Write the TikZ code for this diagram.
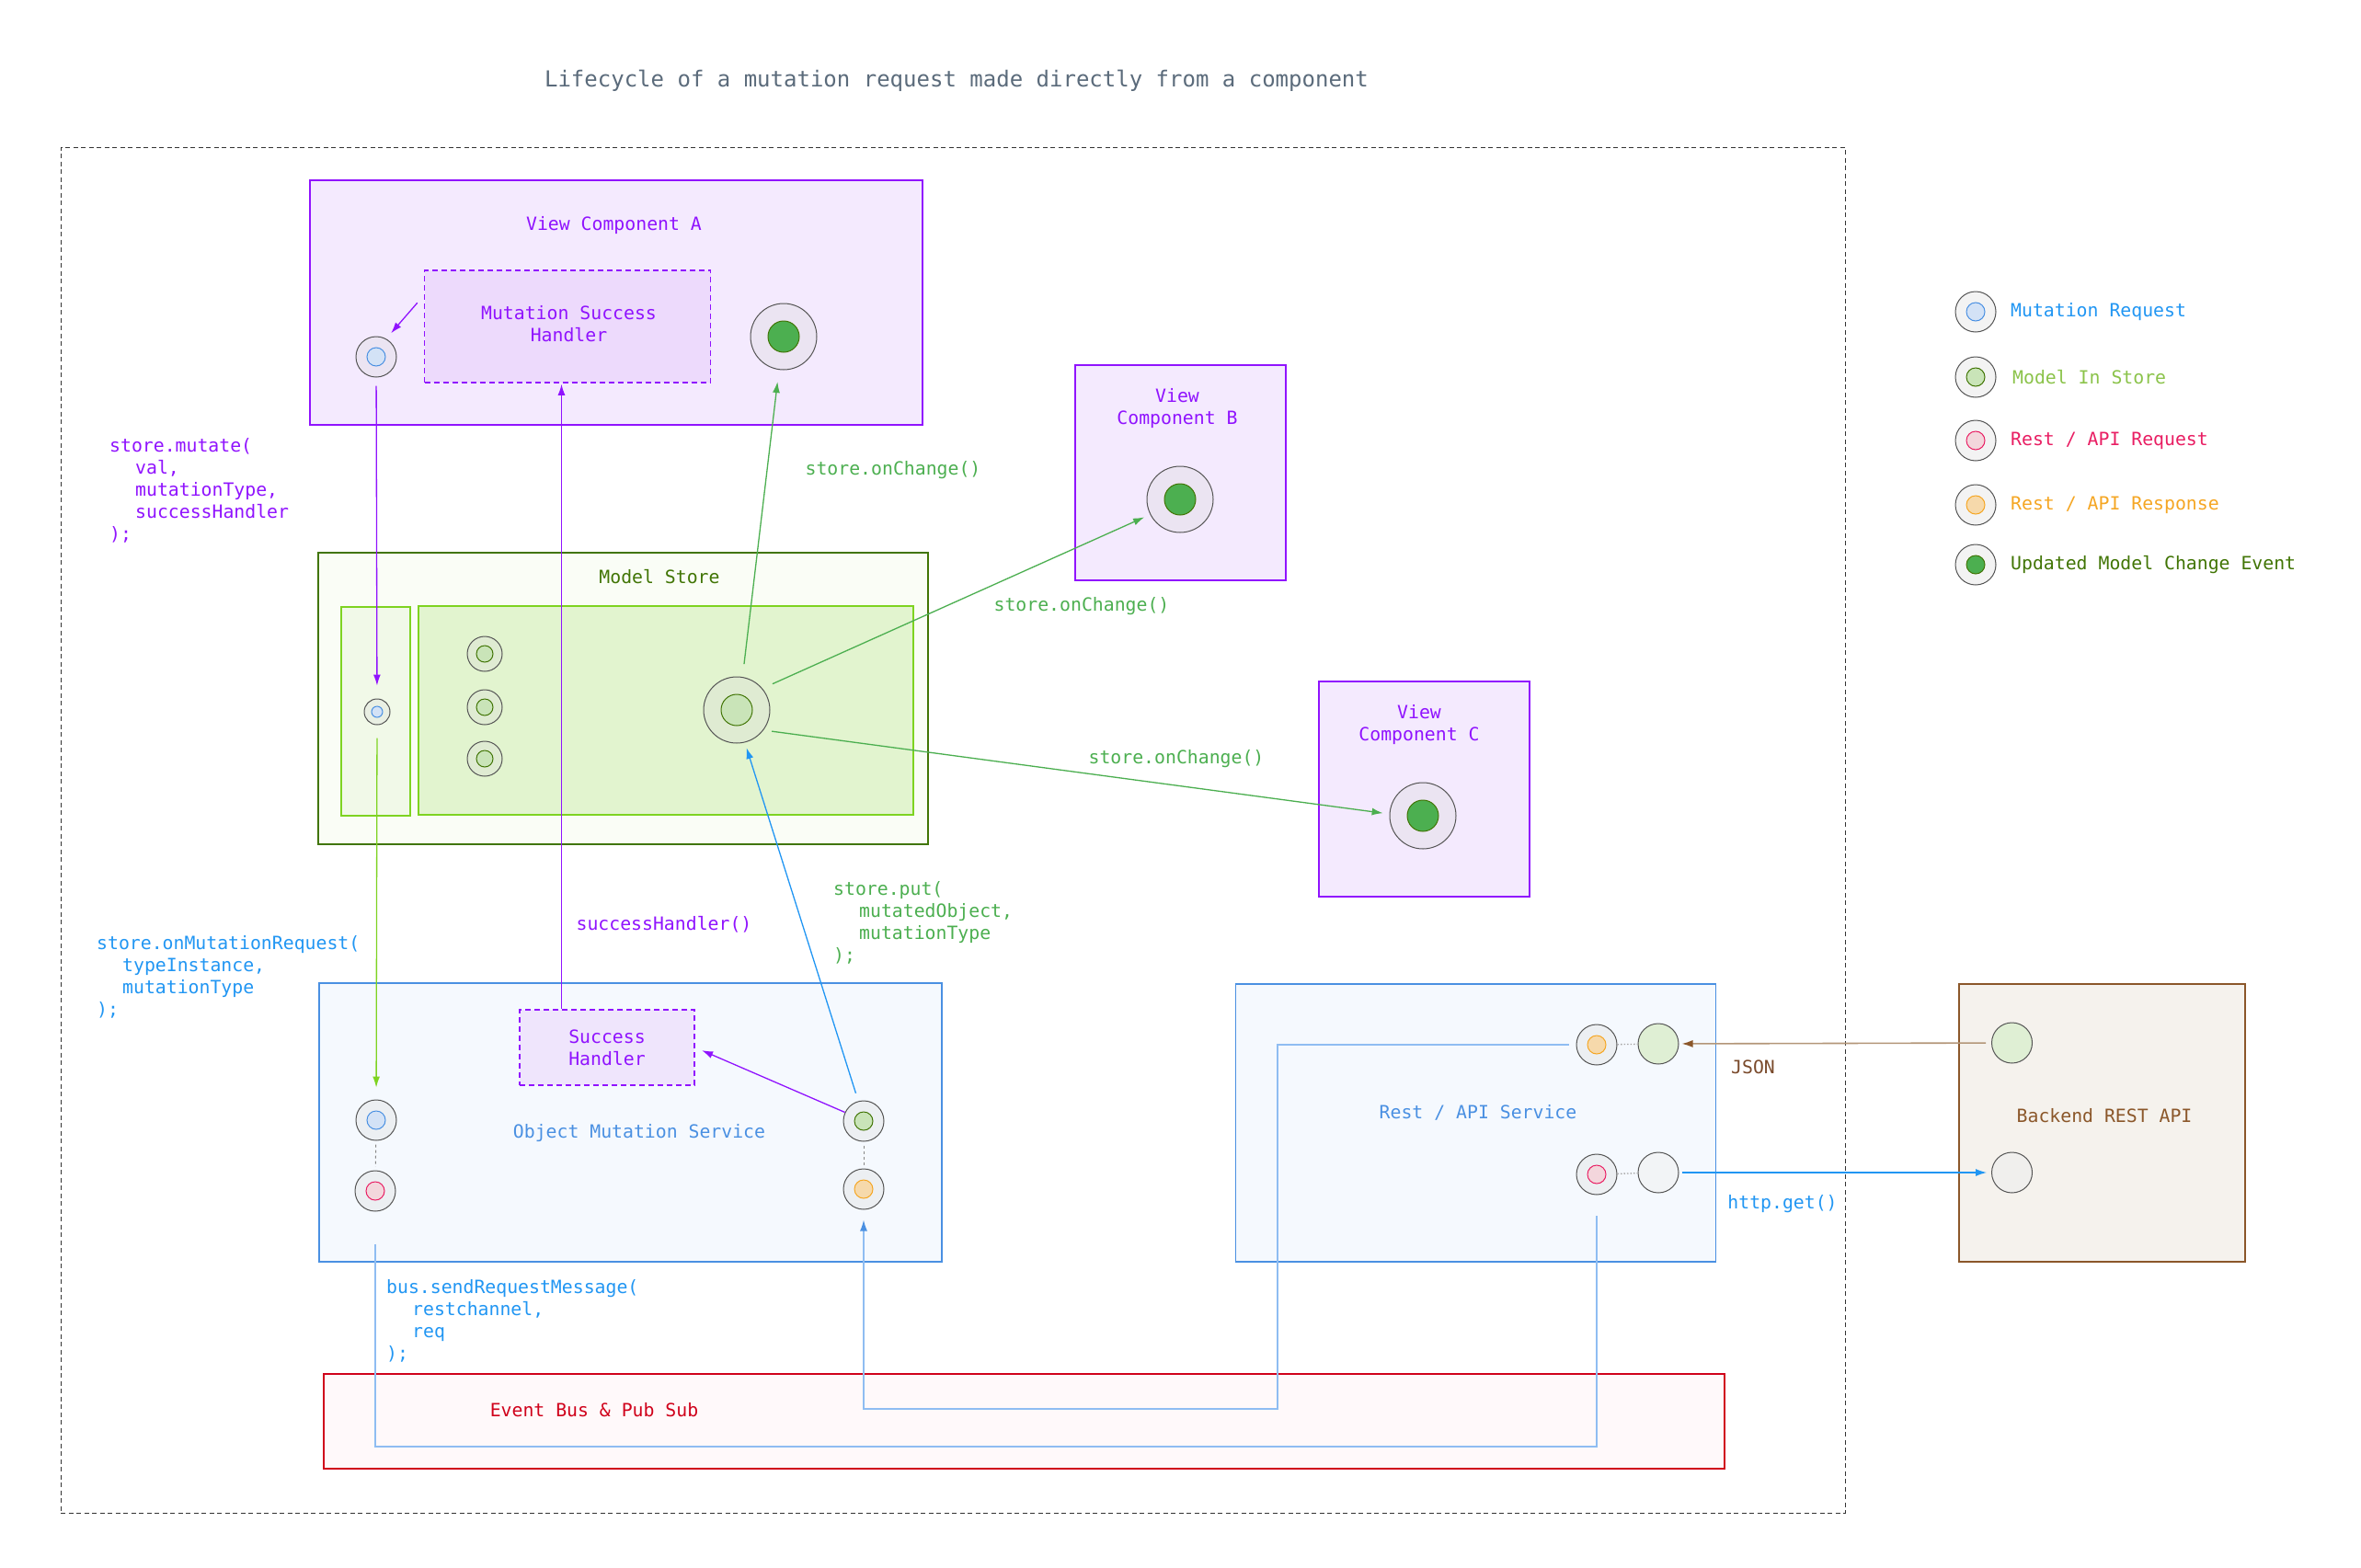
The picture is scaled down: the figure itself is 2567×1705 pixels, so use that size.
\documentclass[tikz,border=0pt]{standalone}
\usepackage{fontspec}
\setmainfont{DejaVu Sans Mono}
\usetikzlibrary{arrows.meta}

\definecolor{cpurple}{HTML}{9013FE}
\definecolor{vfill}{HTML}{F4EAFE}
\definecolor{hfill}{HTML}{EDDAFC}
\definecolor{shfill}{HTML}{EFE5FC}
\definecolor{dgreen}{HTML}{417505}
\definecolor{lgreen}{HTML}{7ED321}
\definecolor{mgreen}{HTML}{4CAF50}
\definecolor{pgreen}{HTML}{8BC34A}
\definecolor{msfill}{HTML}{FAFDF6}
\definecolor{msleft}{HTML}{F1F9E8}
\definecolor{msright}{HTML}{E2F4CF}
\definecolor{sblue}{HTML}{4A90E2}
\definecolor{bblue}{HTML}{2196F3}
\definecolor{pblue}{HTML}{8FBDF2}
\definecolor{sfill}{HTML}{F5F9FE}
\definecolor{brn}{HTML}{8B572A}
\definecolor{lbrn}{HTML}{B39678}
\definecolor{jbrn}{HTML}{7A4A2B}
\definecolor{bfill}{HTML}{F5F2ED}
\definecolor{bred}{HTML}{D0021B}
\definecolor{rfill}{HTML}{FFF9FA}
\definecolor{cpink}{HTML}{E91E63}
\definecolor{corange}{HTML}{F5A623}
\definecolor{ttl}{HTML}{5B6B7B}
\definecolor{ringc}{HTML}{555555}
\definecolor{framec}{HTML}{333333}
\definecolor{mreqf}{HTML}{D3E2F6}
\definecolor{modf}{HTML}{C9E4B8}
\definecolor{rreqf}{HTML}{F3D6DC}
\definecolor{rresf}{HTML}{F6D9AB}

\begin{document}
\begin{tikzpicture}[x=1pt, y=-1pt, >={Latex[length=12pt,width=8pt]},
  lbl/.style={font=\fontsize{19.8}{24}\selectfont, inner sep=0},
  code/.style={lbl, align=left, anchor=west},
  twol/.style={lbl, align=center},
  frame/.style={draw=framec, line width=1pt, dash pattern=on 5pt off 3.5pt, inner sep=0},
  vbox/.style={draw=cpurple, fill=vfill, line width=1.5pt, inner sep=0},
  hbox/.style={draw=cpurple, fill=hfill, line width=1.5pt, dash pattern=on 6pt off 4pt, inner sep=0},
  shbox/.style={hbox, fill=shfill},
  msbox/.style={draw=dgreen, fill=msfill, line width=1.5pt, inner sep=0},
  inbox/.style={draw=lgreen, fill=msleft, line width=1.5pt, inner sep=0},
  sbox/.style={draw=sblue, fill=sfill, line width=1.5pt, inner sep=0},
  bebox/.style={draw=brn, fill=bfill, line width=1.5pt, inner sep=0},
  busbox/.style={draw=bred, fill=rfill, line width=1.5pt, inner sep=0},
  ring/.style={circle, draw=ringc, line width=1pt, fill=black!15, fill opacity=0.3, inner sep=0, minimum size=44pt},
  bigring/.style={ring, minimum size=72pt},
  midring/.style={ring, minimum size=38pt},
  smallring/.style={ring, minimum size=28pt},
  dot/.style={circle, line width=1pt, inner sep=0, minimum size=20pt},
  mreq/.style={dot, draw=sblue, fill=mreqf},
  mod/.style={dot, draw=dgreen, fill=modf},
  rreq/.style={dot, draw=cpink, fill=rreqf},
  rres/.style={dot, draw=corange, fill=rresf},
  evt/.style={dot, draw=dgreen, fill=mgreen},
  conn/.style={line width=1.3pt}]

\useasboundingbox (0,0) rectangle (2567,1705);
\fill[white] (0,0) rectangle (2567,1705);

\node[font=\fontsize{24}{29}\selectfont, text=ttl, inner sep=0] (title) at (1040,88) {Lifecycle of a mutation request made directly from a component};
\node[frame, minimum width=1940, minimum height=1485] (fr) at (1036,902.5) {};

% view components
\node[vbox, minimum width=666, minimum height=266] (vca) at (670,329) {};
\node[lbl, text=cpurple] (vcat) at (667.5,245) {View Component A};
\node[hbox, minimum width=311, minimum height=122] (msh) at (617,355) {};
\node[twol, text=cpurple] (msht) at (618.5,352.5) {Mutation Success\\Handler};
\node[ring] (a1) at (409,388) {};
\node[mreq] (a1i) at (a1) {};
\node[bigring] (aev) at (852,366) {};
\node[evt, minimum size=34pt] (aevi) at (aev) {};

\node[vbox, minimum width=229, minimum height=234] (vcb) at (1283.5,514) {};
\node[twol, text=cpurple] (vcbt) at (1280,444) {View\\Component B};
\node[bigring] (vbe) at (1283,543) {};
\node[evt, minimum size=34pt] (vbei) at (vbe) {};

\node[vbox, minimum width=229, minimum height=234] (vcc) at (1548.5,858) {};
\node[twol, text=cpurple] (vcct) at (1543,788) {View\\Component C};
\node[bigring] (vce) at (1547,887) {};
\node[evt, minimum size=34pt] (vcei) at (vce) {};

% model store
\node[msbox, minimum width=663, minimum height=317] (ms) at (677.5,759.5) {};
\node[lbl, text=dgreen] (mst) at (717,627) {Model Store};
\node[inbox, minimum width=75, minimum height=227] (msl) at (408.5,773.5) {};
\node[inbox, fill=msright, minimum width=538, minimum height=227] (msr) at (724,772.5) {};
\node[smallring] (s1) at (410,774) {};
\node[mreq, minimum size=12pt] (s1i) at (s1) {};
\node[midring] (m1) at (527,711) {};
\node[mod, minimum size=18pt] (m1i) at (m1) {};
\node[midring] (m2) at (527,769) {};
\node[mod, minimum size=18pt] (m2i) at (m2) {};
\node[midring] (m3) at (527,825) {};
\node[mod, minimum size=18pt] (m3i) at (m3) {};
\node[bigring] (mbig) at (801,772) {};
\node[mod, minimum size=34pt] (mbigi) at (mbig) {};

% object mutation service
\node[sbox, minimum width=677, minimum height=303] (oms) at (685.5,1220.5) {};
\node[lbl, text=sblue] (omst) at (695,1232) {Object Mutation Service};
\node[shbox, minimum width=190, minimum height=82] (sh) at (660,1139) {};
\node[twol, text=cpurple] (sht) at (660,1139) {Success\\Handler};
\node[ring] (o1) at (409,1218) {};
\node[mreq] (o1i) at (o1) {};
\node[ring] (o2) at (408,1295) {};
\node[rreq] (o2i) at (o2) {};
\node[ring] (o3) at (939,1219) {};
\node[mod] (o3i) at (o3) {};
\node[ring] (o4) at (939,1293) {};
\node[rres] (o4i) at (o4) {};
\draw[ringc!70, line width=1pt, dashed, shorten <=4pt, shorten >=4pt] (o1) -- (o2);
\draw[ringc!70, line width=1pt, dashed, shorten <=4pt, shorten >=4pt] (o3) -- (o4);

% rest api service
\node[sbox, minimum width=522, minimum height=302] (rs) at (1604.5,1221) {};
\node[lbl, text=sblue] (rst) at (1607,1210) {Rest / API Service};
\node[ring] (r1) at (1736,1136) {};
\node[rres] (r1i) at (r1) {};
\node[ring, fill=modf!60!white, fill opacity=1] (r1b) at (1803,1135) {};
\node[ring] (r2) at (1736,1277) {};
\node[rreq] (r2i) at (r2) {};
\node[ring, fill=black!6, fill opacity=0.5] (r2b) at (1803,1275) {};
\draw[black!35, line width=1.3pt, dash pattern=on 1.5pt off 2pt] (r1) -- (r1b);
\draw[black!35, line width=1.3pt, dash pattern=on 1.5pt off 2pt] (r2) -- (r2b);

% backend
\node[bebox, minimum width=311, minimum height=302] (be) at (2285.5,1221) {};
\node[lbl, text=brn] (bet) at (2288,1213) {Backend REST API};
\node[ring, fill=modf!60!white, fill opacity=1] (k1) at (2187.5,1134) {};
\node[ring, fill=black!7, fill opacity=0.5] (k2) at (2187.5,1275) {};

% event bus
\node[busbox, minimum width=1523, minimum height=103] (bus) at (1113.5,1545.5) {};
\node[lbl, text=bred] (bust) at (646,1533) {Event Bus \& Pub Sub};

% legend
\node[ring] (l1) at (2148,339) {};
\node[mreq] (l1i) at (l1) {};
\node[lbl, text=bblue, anchor=west] (l1t) at (2186,339) {Mutation Request};
\node[ring] (l2) at (2148,410) {};
\node[mod] (l2i) at (l2) {};
\node[lbl, text=pgreen, anchor=west] (l2t) at (2188,410) {Model In Store};
\node[ring] (l3) at (2148,479) {};
\node[rreq] (l3i) at (l3) {};
\node[lbl, text=cpink, anchor=west] (l3t) at (2186,479) {Rest / API Request};
\node[ring] (l4) at (2148,549) {};
\node[rres] (l4i) at (l4) {};
\node[lbl, text=corange, anchor=west] (l4t) at (2186,549) {Rest / API Response};
\node[ring] (l5) at (2148,614) {};
\node[evt] (l5i) at (l5) {};
\node[lbl, text=dgreen, anchor=west] (l5t) at (2186,614) {Updated Model Change Event};

% connectors
\draw[conn, cpurple, ->, shorten <=9pt, shorten >=14pt] (a1) -- (s1);
\node[code, text=cpurple] (mutl) at (119,533.5) {store.mutate(\\\hspace*{28pt}val,\\\hspace*{28pt}mutationType,\\\hspace*{28pt}successHandler\\);};

\draw[conn, lgreen, ->, shorten <=14pt, shorten >=13pt] (s1) -- (o1);
\node[code, text=bblue] (omrl) at (105,1062.5) {store.onMutationRequest(\\\hspace*{28pt}typeInstance,\\\hspace*{28pt}mutationType\\);};

\draw[conn, cpurple, ->, shorten >=1pt] ([xshift=-49.5pt]sh.north) -- ([xshift=-49.5pt]sh.north |- msh.south);
\node[lbl, text=cpurple] (shl) at (722,1005) {successHandler()};

\draw[conn, cpurple, ->, shorten >=8pt] (o3.155) -- (sh.east);
\draw[conn, cpurple, ->, shorten >=8pt] ([xshift=-7pt,yshift=-36pt]msh.north west) -- (a1.61);

\draw[conn, bblue, ->, shorten <=9pt, shorten >=6pt] (o3.105) -- (mbig.-76);
\node[code, text=mgreen] (putl) at (906,1003) {store.put(\\\hspace*{28pt}mutatedObject,\\\hspace*{28pt}mutationType\\);};

\draw[conn, mgreen, ->, shorten <=14pt, shorten >=13pt] (mbig.80) -- (aev.262);
\node[lbl, text=mgreen] (chal) at (971,511) {store.onChange()};
\draw[conn, mgreen, ->, shorten <=12pt, shorten >=7pt] (mbig.40) -- (vbe.207);
\node[lbl, text=mgreen] (chbl) at (1176,659) {store.onChange()};
\draw[conn, mgreen, ->, shorten <=9pt, shorten >=7pt] (mbig.-37) -- (vce.177);
\node[lbl, text=mgreen] (chcl) at (1279,825) {store.onChange()};

\coordinate (b8) at (0,1573);
\draw[conn, pblue, shorten <=35pt, shorten >=22pt] (o2.south) -- (o2.south |- b8) -| (r2.south);
\node[code, text=bblue] (sendl) at (420,1436.5) {bus.sendRequestMessage(\\\hspace*{28pt}restchannel,\\\hspace*{28pt}req\\);};

\coordinate (b9) at (1389,1532);
\draw[conn, pblue, -{Latex[length=12pt,width=8pt,color=sblue]}, shorten <=8pt, shorten >=11pt] (r1.west) -- (r1.west -| b9) -- (b9) -| (o4.south);

\draw[conn, lbrn, line width=1.6pt, -{Latex[length=12pt,width=8pt,color=brn]}, shorten <=6pt, shorten >=3pt] (k1) -- (r1b);
\node[lbl, text=jbrn] (jsonl) at (1906,1160) {JSON};
\draw[conn, bblue, ->, shorten <=3pt, shorten >=5pt] (r2b) -- (k2);
\node[lbl, text=bblue] (httpl) at (1938,1309) {http.get()};
\end{tikzpicture}
\end{document}
